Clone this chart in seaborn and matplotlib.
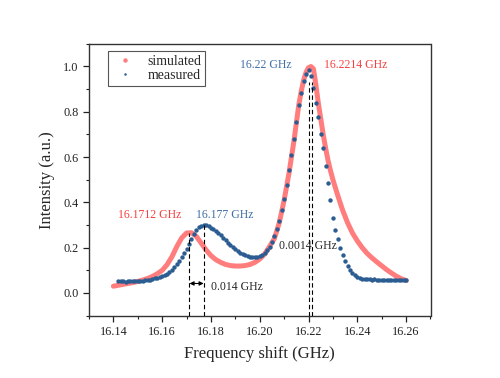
import numpy as np
import pandas as pd
import matplotlib
matplotlib.use("Agg")
import matplotlib.pyplot as plt
from matplotlib.lines import Line2D
from matplotlib.ticker import MultipleLocator
import seaborn as sns

# simulated spectrum
sim_freq = [16.140, 16.142, 16.144, 16.146, 16.148, 16.150, 16.152, 16.154, 16.156, 16.158,
            16.160, 16.162, 16.164, 16.166, 16.168, 16.170, 16.172, 16.174, 16.176, 16.178,
            16.180, 16.182, 16.184, 16.186, 16.188, 16.190, 16.192, 16.194, 16.196, 16.198,
            16.200, 16.202, 16.204, 16.206, 16.208, 16.210, 16.212, 16.213, 16.214, 16.215,
            16.216, 16.217, 16.218, 16.219, 16.220, 16.221, 16.222, 16.223, 16.224, 16.225,
            16.226, 16.227, 16.228, 16.229, 16.230, 16.232, 16.234, 16.236, 16.238, 16.240,
            16.242, 16.244, 16.246, 16.248, 16.250, 16.252, 16.254, 16.256, 16.258, 16.260]
sim_int = [0.030, 0.034, 0.038, 0.042, 0.046, 0.051, 0.057, 0.064, 0.073, 0.085,
           0.100, 0.125, 0.160, 0.205, 0.243, 0.265, 0.266, 0.250, 0.220, 0.190,
           0.165, 0.147, 0.135, 0.126, 0.121, 0.119, 0.119, 0.121, 0.126, 0.135,
           0.150, 0.172, 0.205, 0.240, 0.310, 0.410, 0.530, 0.600, 0.670, 0.750,
           0.830, 0.890, 0.940, 0.975, 0.995, 1.000, 0.990, 0.920, 0.840, 0.770,
           0.700, 0.640, 0.585, 0.540, 0.500, 0.430, 0.365, 0.310, 0.265, 0.230,
           0.200, 0.175, 0.155, 0.137, 0.120, 0.103, 0.088, 0.074, 0.063, 0.055]

# measured spectrum, 1 MHz steps from 16.142 to 16.260
meas_freq = [round(16.142 + 0.001 * i, 3) for i in range(119)]
meas_int = [0.053, 0.051, 0.052, 0.050, 0.052, 0.053, 0.051, 0.053, 0.054, 0.053,
            0.055, 0.056, 0.057, 0.059, 0.061, 0.064, 0.068, 0.072, 0.076, 0.080,
            0.086, 0.093, 0.103, 0.115, 0.128, 0.142, 0.158, 0.175, 0.195, 0.217,
            0.240, 0.262, 0.278, 0.290, 0.297, 0.301, 0.299, 0.295, 0.289, 0.281,
            0.273, 0.264, 0.254, 0.243, 0.232, 0.221, 0.211, 0.201, 0.192, 0.184,
            0.177, 0.171, 0.166, 0.162, 0.159, 0.157, 0.157, 0.159, 0.163, 0.169,
            0.178, 0.190, 0.205, 0.225, 0.250, 0.282, 0.320, 0.365, 0.415, 0.475,
            0.545, 0.610, 0.680, 0.755, 0.830, 0.885, 0.935, 0.965, 0.985, 0.960,
            0.905, 0.840, 0.775, 0.700, 0.640, 0.560, 0.485, 0.410, 0.330, 0.280,
            0.240, 0.200, 0.168, 0.142, 0.120, 0.103, 0.090, 0.080, 0.072, 0.066,
            0.063, 0.061, 0.060, 0.060, 0.059, 0.060, 0.059, 0.059, 0.058, 0.059,
            0.058, 0.058, 0.057, 0.058, 0.057, 0.057, 0.056, 0.057, 0.056]

# peak positions and marker-line heights
sim_peaks = [16.1712, 16.2214]
sim_peak_h = [0.265, 0.93]
meas_peaks = [16.177, 16.22]
meas_peak_h = [0.30, 0.93]

sim_df = pd.DataFrame({"freq": sim_freq, "intensity": sim_int})
meas_df = pd.DataFrame({"freq": meas_freq, "intensity": meas_int})

sns.set_style("ticks")
plt.rcParams["font.family"] = ["Liberation Serif", "DejaVu Serif"]

red = "#ff7d7d"
blue = "#2c5d92"
red_txt = "#f5403f"
blue_txt = "#3f6fa6"

fig = plt.figure(figsize=(5, 3.78), dpi=100)
ax = fig.add_axes([0.178, 0.165, 0.683, 0.719])

sns.lineplot(data=sim_df, x="freq", y="intensity", color=red, linewidth=3.6,
             ax=ax, legend=False, solid_capstyle="round")
sns.scatterplot(data=meas_df, x="freq", y="intensity", color=blue, s=10,
                linewidth=0, ax=ax, legend=False, zorder=3)

# dashed peak markers
for xp, hp in zip(sim_peaks + meas_peaks, sim_peak_h + meas_peak_h):
    ax.plot([xp, xp], [-0.1, hp], color="black", lw=0.8, dashes=(4, 2.5), zorder=4)

# splitting arrow
ax.annotate("", xy=(meas_peaks[0], 0.042), xytext=(sim_peaks[0], 0.042),
            arrowprops=dict(arrowstyle="<|-|>", color="black", lw=0.8,
                            mutation_scale=6, shrinkA=0, shrinkB=0))
ax.text(16.1802, 0.025, "0.014 GHz", fontsize=8.5, va="center", ha="left")
ax.text(16.2080, 0.209, "0.0014 GHz", fontsize=8.5, va="center", ha="left", zorder=5)

ax.text(16.1548, 0.346, "16.1712 GHz", color=red_txt, fontsize=8.5, ha="center", va="center")
ax.text(16.1856, 0.346, "16.177 GHz", color=blue_txt, fontsize=8.5, ha="center", va="center")
ax.text(16.2025, 1.005, "16.22 GHz", color=blue_txt, fontsize=8.5, ha="center", va="center")
ax.text(16.2395, 1.005, "16.2214 GHz", color=red_txt, fontsize=8.5, ha="center", va="center")

ax.set_xlim(16.13, 16.27)
ax.set_ylim(-0.1, 1.1)
ax.xaxis.set_minor_locator(MultipleLocator(0.01))
ax.yaxis.set_minor_locator(MultipleLocator(0.1))
ax.set_xticks([16.14, 16.16, 16.18, 16.20, 16.22, 16.24, 16.26])
ax.set_xticklabels(["16.14", "16.16", "16.18", "16.20", "16.22", "16.24", "16.26"])
ax.set_yticks([0.0, 0.2, 0.4, 0.6, 0.8, 1.0])
ax.set_yticklabels(["0.0", "0.2", "0.4", "0.6", "0.8", "1.0"])

ax.tick_params(which="major", direction="out", length=4, width=0.9, labelsize=8.8,
               colors="#222222", top=False, right=False)
ax.tick_params(which="minor", direction="out", length=2.2, width=0.8, colors="#222222",
               top=False, right=False)
for side in ["left", "right", "top", "bottom"]:
    ax.spines[side].set_visible(True)
    ax.spines[side].set_color("#333333")
    ax.spines[side].set_linewidth(1.0)

ax.set_xlabel("Frequency shift (GHz)", fontsize=12, labelpad=6)
ax.set_ylabel("Intensity (a.u.)", fontsize=12, labelpad=6)

handles = [Line2D([], [], linestyle="none", marker="o", markersize=3.2, color=red, markeredgewidth=0),
           Line2D([], [], linestyle="none", marker="o", markersize=1.8, color=blue, markeredgewidth=0)]
leg = ax.legend(handles, ["simulated", "measured"], loc="upper left",
                bbox_to_anchor=(0.055, 0.972), borderaxespad=0, fontsize=10,
                frameon=True, fancybox=False, framealpha=1, edgecolor="#555555",
                handletextpad=0.6, borderpad=0.25, labelspacing=0.1, handlelength=2.0)
leg.get_frame().set_linewidth(0.8)

fig.savefig("out.png", dpi=100)
